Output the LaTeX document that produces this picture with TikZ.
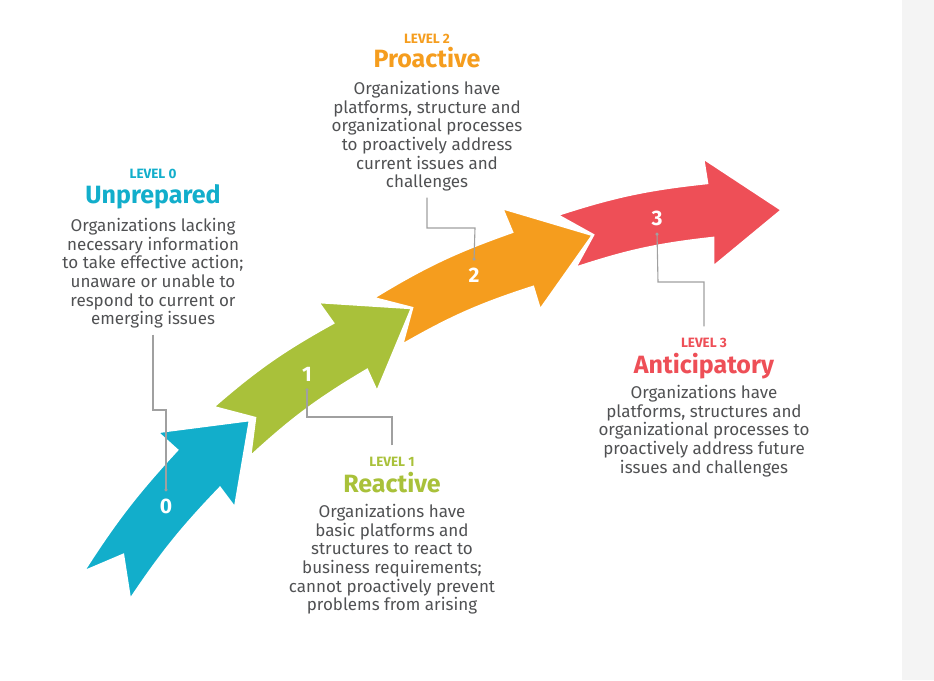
\documentclass[tikz,border=0pt]{standalone}
\usepackage{fontspec}
\setmainfont{Fira Sans}
\usetikzlibrary{arrows.meta,positioning}

\definecolor{lvlblue}{HTML}{12AECB}
\definecolor{lvlgreen}{HTML}{A9C13A}
\definecolor{lvlorange}{HTML}{F59D1E}
\definecolor{lvlred}{HTML}{EE4F57}
\definecolor{bodygray}{HTML}{505153}
\definecolor{leadgray}{HTML}{A0A0A0}
\definecolor{stripgray}{HTML}{F4F4F4}

\begin{document}
\begin{tikzpicture}[x=1pt,y=-1pt]
            \tikzstyle{stage}=[draw=white, line width=2.5pt, line join=miter]
            \tikzstyle{num}=[text=white, font=\bfseries\fontsize{21}{21}\selectfont, inner sep=7pt]
            \tikzstyle{level}=[anchor=base, inner ysep=11pt, font=\bfseries\fontsize{13.5}{14}\selectfont]
            \tikzstyle{title}=[anchor=base, font=\bfseries\fontsize{25}{26}\selectfont]
            \tikzstyle{desc}=[anchor=north, align=center, text=bodygray, inner sep=6pt, font=\fontsize{17}{18.6}\selectfont]
            \tikzstyle{leader}=[leadgray, line width=1.1pt, -{Circle[length=3pt]}]

            % canvas
            \useasboundingbox (0,0) rectangle (934,680);
            \fill[stripgray] (902,0) rectangle (934,680);

            % arrows
            \path[stage, fill=lvlblue] (83,572) to[bend left=5] (177,450) -- (157,432) -- (250,420)
                -- (235,508) -- (220,488) to[bend right=5] (130,600) -- (123,555) -- cycle;
            \path[stage, fill=lvlgreen] (213,407) to[bend left=6] (333,323) -- (318,302) -- (412,308)
                -- (377,392) -- (367,370) to[bend right=6] (250,457) -- (255,418) -- cycle;
            \path[stage, fill=lvlorange] (373,298) to[bend left=6] (512,232) -- (502,208) -- (593,235)
                -- (540,310) -- (533,287) to[bend right=6] (402,345) -- (412,308) -- cycle;
            \path[stage, fill=lvlred] (557,215) to[bend left=6] (707,183) -- (703,158) -- (782,210)
                -- (713,267) -- (713,238) to[bend right=6] (575,268) -- (593,235) -- cycle;

            % step numbers
            \node[num] (num0) at (166,506) {0};
            \node[num] (num1) at (307,374) {1};
            \node[num] (num2) at (474,275) {2};
            \node[num] (num3) at (657,218) {3};

            % level 0
            \node[level, text=lvlblue] (lvl0) at (153,178) {LEVEL 0};
            \node[title, text=lvlblue] (name0) at (153,203) {Unprepared};
            \node[desc] (desc0) at (153,212.3) {Organizations lacking\\necessary information\\to take effective action;\\unaware or unable to\\respond to current or\\emerging issues};

            % level 1
            \node[level, text=lvlgreen] (lvl1) at (392,466) {LEVEL 1};
            \node[title, text=lvlgreen] (name1) at (392,492) {Reactive};
            \node[desc] (desc1) at (392,498.3) {Organizations have\\basic platforms and\\structures to react to\\business requirements;\\cannot proactively prevent\\problems from arising};

            % level 2
            \node[level, text=lvlorange] (lvl2) at (427,43) {LEVEL 2};
            \node[title, text=lvlorange] (name2) at (427,67) {Proactive};
            \node[desc] (desc2) at (427,75.3) {Organizations have\\platforms, structure and\\organizational processes\\to proactively address\\current issues and\\challenges};

            % level 3
            \node[level, text=lvlred] (lvl3) at (704,347) {LEVEL 3};
            \node[title, text=lvlred] (name3) at (704,373) {Anticipatory};
            \node[desc] (desc3) at (704,379.3) {Organizations have\\platforms, structures and\\organizational processes to\\proactively address future\\issues and challenges};

            % leader lines
            \coordinate (bend0) at (166,410);
            \coordinate (bend1) at (307,417);
            \coordinate (bend2) at (475,228);
            \coordinate (bend3) at (658,282);
            \draw[leader] (desc0.south) |- (bend0) -- (num0.north);
            \draw[leader] (lvl1.north) |- (bend1) -- (num1.south);
            \draw[leader] (desc2.south) |- (bend2) -- (num2.north);
            \draw[leader] (lvl3.north) |- (bend3) -- (num3.south);
        \end{tikzpicture}
\end{document}
